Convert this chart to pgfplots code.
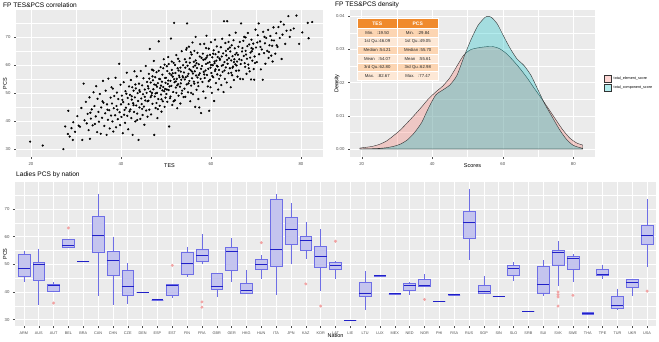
\documentclass[border=0pt]{standalone}
\usepackage{fontspec}
\setmainfont{Liberation Sans}
\usepackage{pgfplots}
\pgfplotsset{compat=1.18}
\usepgfplotslibrary{statistics}

\definecolor{panelbg}{HTML}{EBEBEB}
\definecolor{tickgray}{HTML}{4D4D4D}
\definecolor{tesfill}{HTML}{F8766D}
\definecolor{pcsfill}{HTML}{00BFC4}
\definecolor{hdr}{HTML}{F08A2C}
\definecolor{rowA}{HTML}{FCD5B2}
\definecolor{rowB}{HTML}{FDE8D6}
\definecolor{boxfill}{HTML}{C4C4EE}
\definecolor{boxline}{HTML}{6E6EE6}
\definecolor{medline}{HTML}{2020C8}
\definecolor{outl}{HTML}{F2A3A3}

\pgfplotsset{
 gg/.style={
  scale only axis,
  anchor=south west,
  axis background/.style={fill=panelbg},
  axis line style={draw=none},
  tick pos=left,
  tick align=outside,
  major tick length=2pt,
  minor tick length=0pt,
  tick style={tickgray, line width=0.4pt},
  grid=both,
  major grid style={white, line width=0.55pt},
  minor grid style={white, line width=0.25pt},
  tick label style={font=\fontsize{4.3}{5}\selectfont, text=tickgray},
  label style={font=\fontsize{5.5}{6}\selectfont},
  /pgf/number format/assume math mode=true,
 },
 bp/.style={
  boxplot/draw direction=y,
  boxplot/box extend=0.8,
  boxplot/whisker extend=0,
  draw=boxline, fill=boxfill, line width=0.55pt,
  boxplot/every median/.style={draw=medline, line width=1pt},
 },
}
\newcommand{\bx}[6]{\addplot[bp, boxplot prepared={draw position=#1, lower whisker=#2, lower quartile=#3, median=#4, upper quartile=#5, upper whisker=#6}] coordinates {};}

\begin{document}
\begin{tikzpicture}[x=1pt,y=1pt]
\useasboundingbox (0,0) rectangle (659,341);

% ---------------- scatter ----------------
\begin{axis}[gg, at={(16pt,184pt)}, width=307pt, height=147pt,
  xmin=16.67, xmax=84.9, ymin=27.1, ymax=79.6,
  xtick={20,40,60,80}, minor xtick={30,50,70},
  ytick={30,40,50,60,70}, minor ytick={35,45,55,65,75},
  xlabel={TES}, ylabel={PCS},
  xlabel style={at={(axis description cs:0.5,-0.061)}, anchor=center},
  ylabel style={at={(axis description cs:-0.036,0.5)}, anchor=center}]
\addplot[only marks, mark=*, mark size=0.9pt, black] coordinates {
(19.8,32.6)(22.6,31.2)(27.2,29.9)
(27.6,38.0)(28.2,35.3)(28.3,43.6)(28.6,34.4)(29.0,37.4)(29.3,33.2)(29.4,39.5)(29.8,36.1)
(30.3,41.7)(30.6,38.3)(30.9,37.9)(31.2,44.6)(31.4,33.2)(31.7,53.3)(31.9,40.2)(32.2,46.8)(32.4,39.1)(32.6,42.5)(32.8,36.7)(33.0,48.4)(33.1,33.6)(33.3,40.8)(33.5,44.1)(33.7,38.4)(33.9,50.2)(33.2,42.9)
(34.1,45.3)(34.2,38.9)(34.4,41.6)(34.5,52.4)(34.7,36.0)(34.8,47.9)(35.0,43.2)(35.1,39.7)(35.3,49.6)(35.5,35.4)(35.6,44.8)(35.8,41.1)(36.0,54.3)(36.1,46.5)(36.3,38.2)(36.5,42.7)(36.6,50.8)(36.8,35.0)(36.9,45.9)(37.1,40.4)(37.2,55.1)(37.4,43.8)(37.5,37.3)(37.7,48.3)(37.8,41.9)(37.9,52.0)(35.9,47.0)(37.0,44.0)
(38.0,46.2)(38.1,39.8)(38.2,51.5)(38.3,36.2)(38.4,44.5)(38.5,48.9)(38.7,42.0)(38.8,55.4)(38.9,37.7)(39.0,45.3)(39.1,50.1)(39.3,40.6)(39.4,47.8)(39.6,60.4)(39.7,43.1)(39.8,38.5)(39.9,52.9)(40.0,45.9)(40.1,41.4)(40.2,49.0)(40.4,35.6)(40.5,46.7)(40.6,53.8)(40.8,43.9)(40.9,39.3)(41.0,50.6)(41.1,44.7)(41.3,57.2)(41.4,41.8)(41.5,48.2)(41.6,37.0)(41.7,46.0)(41.8,52.3)(41.9,43.4)(40.3,47.5)(39.2,44.0)(40.7,42.2)(41.2,49.7)
(42.0,49.3)(42.1,44.1)(42.2,54.6)(42.3,41.0)(42.4,47.6)(42.5,52.0)(42.6,35.0)(42.7,46.3)(42.8,50.8)(42.9,43.2)(43.0,57.7)(43.1,48.4)(43.2,39.8)(43.3,51.6)(43.4,45.5)(43.5,55.9)(43.6,42.6)(43.7,49.9)(43.8,47.1)(43.9,33.2)(44.0,53.3)(44.1,44.8)(44.2,50.4)(44.3,40.7)(44.4,57.8)(44.5,48.0)(44.6,46.0)(44.7,52.7)(44.8,42.1)(44.9,49.5)(45.0,55.2)(45.1,45.1)(45.2,38.6)(45.3,51.2)(45.4,47.3)(45.5,59.6)(45.6,43.7)(45.7,50.0)(45.8,53.9)(45.9,41.5)(42.4,48.8)(43.2,53.0)(44.1,51.0)(44.7,44.3)(45.3,48.6)(45.9,47.0)(42.8,45.6)(43.6,40.3)
(46.0,52.4)(46.1,47.2)(46.2,56.8)(46.3,44.0)(46.4,65.7)(46.5,50.5)(46.6,53.7)(46.7,42.3)(46.8,49.1)(46.9,58.3)(47.0,46.1)(47.1,54.5)(47.2,51.3)(47.3,61.4)(47.4,35.0)(47.5,48.7)(47.6,55.6)(47.7,44.6)(47.8,52.8)(47.9,57.4)(48.0,50.0)(48.1,41.0)(48.2,53.5)(48.3,47.8)(48.4,68.4)(48.5,55.0)(48.6,45.4)(48.7,51.7)(48.8,59.2)(48.9,49.4)(49.0,43.3)(49.1,54.0)(49.2,56.5)(49.3,47.0)(49.4,52.1)(49.5,62.0)(49.6,50.6)(49.7,45.0)(49.8,55.3)(49.9,48.3)(46.3,55.1)(46.9,50.0)(47.4,53.0)(47.9,46.4)(48.4,57.9)(48.9,52.6)(49.4,58.8)(49.9,53.6)(46.6,48.5)(47.2,58.0)(47.7,49.8)(48.2,44.2)(48.7,54.9)(49.2,50.9)(49.7,60.1)(46.1,51.6)(47.0,55.9)(48.0,52.2)(49.0,47.7)(49.8,51.4)
(50.0,55.4)(50.1,49.6)(50.2,59.5)(50.3,46.8)(50.4,53.2)(50.5,62.8)(50.6,51.0)(50.7,38.0)(50.8,56.9)(50.9,48.1)(51.0,54.3)(51.1,69.4)(51.2,52.5)(51.3,58.2)(51.4,45.7)(51.5,55.8)(51.6,50.3)(51.7,60.7)(51.8,75.0)(51.9,53.8)(52.0,47.4)(52.1,57.1)(52.2,51.9)(52.3,63.5)(52.4,55.0)(52.5,44.5)(52.6,58.8)(52.7,53.1)(52.8,49.0)(52.9,56.2)(53.0,61.3)(53.1,52.2)(53.2,46.2)(53.3,57.6)(53.4,54.7)(53.5,64.9)(53.6,50.8)(53.7,56.0)(53.8,59.9)(53.9,48.5)(50.3,57.8)(50.8,52.3)(51.3,61.2)(51.8,54.9)(52.3,50.0)(52.8,58.0)(53.3,53.4)(53.8,55.5)(50.5,54.4)(51.0,48.7)(51.5,57.0)(52.0,60.0)(52.5,52.7)(53.0,55.6)(53.5,49.8)(50.2,51.2)(51.2,56.4)(52.2,54.1)(53.2,59.0)(50.6,60.3)(51.7,47.0)(52.7,62.2)
(54.0,57.3)(54.1,51.5)(54.2,62.0)(54.3,48.6)(54.4,55.6)(54.5,65.4)(54.6,53.0)(54.7,74.8)(54.8,59.7)(54.9,50.2)(55.0,56.8)(55.1,66.5)(55.2,54.3)(55.3,60.8)(55.4,47.0)(55.5,58.1)(55.6,52.6)(55.7,63.7)(55.8,55.2)(55.9,68.0)(56.0,49.5)(56.1,59.3)(56.2,54.0)(56.3,65.0)(56.4,57.7)(56.5,45.0)(56.6,61.6)(56.7,56.2)(56.8,51.1)(56.9,58.9)(57.0,64.3)(57.1,53.7)(57.2,47.8)(57.3,60.2)(57.4,44.8)(57.5,57.0)(57.6,67.4)(57.7,55.0)(57.8,42.8)(57.9,62.5)(54.3,59.0)(54.8,56.0)(55.3,62.4)(55.8,57.6)(56.3,53.3)(56.8,60.6)(57.3,56.4)(57.8,58.6)(54.5,61.0)(55.0,53.4)(55.5,64.5)(56.0,56.9)(56.5,59.8)(57.0,55.5)(57.5,63.0)(54.2,54.8)(55.2,58.5)(56.2,61.1)(57.2,52.4)(54.6,66.0)(55.6,50.0)(56.6,70.0)
(58.0,59.6)(58.1,53.9)(58.2,64.0)(58.3,50.5)(58.4,57.5)(58.5,67.5)(58.6,55.3)(58.7,62.0)(58.8,48.2)(58.9,60.3)(59.0,70.4)(59.1,56.4)(59.2,63.3)(59.3,52.3)(59.4,58.6)(59.5,65.8)(59.6,43.6)(59.7,61.0)(59.8,54.7)(59.9,59.0)(60.0,68.1)(60.1,57.1)(60.2,50.0)(60.3,62.7)(60.4,59.9)(60.5,55.6)(60.6,65.2)(60.7,47.1)(60.8,60.6)(60.9,57.8)(61.0,63.8)(61.1,53.5)(61.2,61.5)(61.3,66.6)(61.4,56.6)(61.5,59.4)(61.6,51.2)(61.7,64.6)(61.8,58.2)(61.9,62.3)(58.3,61.8)(58.8,58.0)(59.3,60.7)(59.8,63.6)(60.3,56.0)(60.8,61.2)(61.3,59.7)(61.8,55.0)(58.5,56.6)(59.0,62.6)(59.5,54.2)(60.0,60.0)(60.5,64.0)(61.0,58.4)(61.5,62.8)(58.9,66.0)(59.9,52.0)(60.9,69.0)
(62.0,61.8)(62.1,56.2)(62.2,66.3)(62.3,52.8)(62.4,59.7)(62.5,69.3)(62.6,57.5)(62.7,64.1)(62.8,50.3)(62.9,75.6)(63.0,61.0)(63.1,55.0)(63.2,67.8)(63.3,59.1)(63.4,63.4)(63.5,53.7)(63.6,75.6)(63.7,60.4)(63.8,65.7)(63.9,57.0)(64.0,62.4)(64.1,70.6)(64.2,58.8)(64.3,64.8)(64.4,52.0)(64.5,61.6)(64.6,67.0)(64.7,56.3)(64.8,63.1)(64.9,59.4)(65.0,68.8)(65.1,54.6)(65.2,62.0)(65.3,65.9)(65.4,60.2)(65.5,71.5)(65.6,57.9)(65.7,64.3)(65.8,61.2)(65.9,55.8)(62.4,63.0)(63.0,58.0)(63.6,61.8)(64.2,66.2)(64.8,59.0)(65.4,63.7)(62.7,60.0)(63.3,65.0)(63.9,68.2)(64.5,57.2)(65.1,61.0)(65.7,59.8)
(66.0,63.6)(66.2,58.0)(66.4,68.2)(66.5,55.0)(66.7,74.8)(66.8,61.7)(67.0,66.0)(67.1,54.9)(67.3,63.2)(67.4,70.0)(67.6,59.3)(67.7,65.0)(67.9,56.8)(68.0,62.2)(68.2,71.4)(68.3,60.1)(68.5,67.3)(68.6,57.7)(68.8,64.4)(68.9,54.8)(69.0,69.0)(69.2,61.5)(69.3,65.7)(69.5,58.5)(69.6,54.7)(69.7,63.0)(69.9,72.6)(66.3,62.0)(66.9,64.8)(67.5,60.6)(68.1,66.7)(68.7,62.6)(69.4,67.6)(66.6,60.3)(67.2,68.6)(67.8,63.7)(68.4,58.8)(69.1,64.9)(69.8,60.7)(66.1,66.5)(67.7,69.8)(69.0,66.0)
(70.0,66.2)(70.2,61.0)(70.4,70.6)(70.6,74.8)(70.7,63.8)(70.9,68.4)(71.1,58.4)(71.3,65.5)(71.5,54.7)(71.6,71.8)(71.8,64.2)(72.0,67.7)(72.1,60.4)(72.3,69.6)(72.5,65.0)(72.7,72.5)(72.8,62.5)(73.0,67.0)(73.2,70.3)(73.4,63.3)(73.5,68.8)(73.7,61.2)(73.9,73.4)(70.3,68.0)(71.0,66.4)(71.9,70.0)(72.9,64.6)(73.6,66.8)
(74.0,68.7)(74.3,64.0)(74.5,71.3)(74.8,66.4)(75.0,73.5)(75.3,69.6)(75.7,62.1)(75.9,70.8)(76.2,74.4)(76.5,67.5)(76.8,72.2)(77.2,77.4)(77.5,70.0)(77.7,72.4)(74.6,67.0)(75.5,75.4)
(78.4,73.0)(79.0,77.6)(79.6,67.5)(80.3,71.6)(81.5,75.0)(81.7,69.5)(82.5,75.3)
};
\end{axis}

% ---------------- density ----------------
\begin{axis}[gg, at={(350pt,184pt)}, width=245pt, height=147pt,
  xmin=16.68, xmax=86.15, ymin=-0.0024, ymax=0.0419,
  xtick={20,40,60,80}, minor xtick={30,50,70},
  ytick={0,0.01,0.02,0.03,0.04}, minor ytick={0.005,0.015,0.025,0.035},
  scaled y ticks=false,
  yticklabel style={/pgf/number format/.cd, fixed, fixed zerofill, precision=2},
  xlabel={Scores}, ylabel={Density},
  xlabel style={at={(axis description cs:0.5,-0.061)}, anchor=center},
  ylabel style={at={(axis description cs:-0.053,0.5)}, anchor=center},
  legend style={at={(axis description cs:1.025,0.5)}, anchor=west, draw=none, fill=none,
    font=\fontsize{3.7}{4.5}\selectfont, row sep=1pt},
  legend cell align=left,
  legend image code/.code={\draw[#1] (0pt,-3.5pt) rectangle (7pt,3.5pt);}]
\addplot[draw=black!80, line width=0.4pt, fill=tesfill, fill opacity=0.3, smooth, tension=0.4] coordinates {
(19.5,0.0003)(21,0.0005)(23,0.0008)(25,0.0014)(27,0.0024)(29,0.0040)(31,0.0058)(33,0.0080)(35,0.0103)(37,0.0127)(39,0.0152)(41,0.0172)(43,0.0190)(45,0.0215)(47,0.0250)(49,0.0284)(51,0.0300)(53,0.0305)(55,0.0308)(57,0.0309)(59,0.0303)(61,0.0288)(63,0.0266)(65,0.0241)(67,0.0213)(69,0.0182)(71,0.0152)(73,0.0121)(75,0.0089)(77,0.0058)(79,0.0033)(81,0.0018)(82.67,0.0012)
} \closedcycle;
\addlegendentry{total\_element\_score}
\addplot[draw=black!80, line width=0.4pt, fill=pcsfill, fill opacity=0.3, smooth, tension=0.4] coordinates {
(19.5,0.0000)(23,0.0001)(25,0.0002)(27,0.0004)(29,0.0008)(31,0.0015)(33,0.0028)(35,0.0050)(37,0.0080)(39,0.0125)(41,0.0163)(43,0.0178)(45,0.0193)(47,0.0222)(49,0.0278)(51,0.0330)(53,0.0373)(55,0.0397)(56,0.0400)(57,0.0395)(58.5,0.0376)(60,0.0345)(62,0.0305)(64,0.0272)(66,0.0252)(68,0.0222)(70,0.0178)(72,0.0134)(74,0.0097)(76,0.0060)(78,0.0030)(80,0.0011)(82.67,0.0002)
} \closedcycle;
\addlegendentry{total\_component\_score}
\end{axis}

% ---------------- boxplot ----------------
\begin{axis}[gg, at={(15pt,15pt)}, width=641pt, height=144pt,
  xmin=-0.6, xmax=42.6, ymin=27.7, ymax=79.7,
  xtick={0,...,42},
  xticklabels={ARM,AUS,AUT,BEL,BRA,CAN,CHN,CZE,DEN,ESP,EST,FIN,FRA,GBR,GER,HKG,HUN,ITA,JPN,KAZ,KOR,LAT,LIE,LTU,LUX,MEX,NED,NOR,PHI,RSA,RUS,SGP,SIN,SLO,SRB,SUI,SVK,SWE,THA,TPE,TUR,UKR,USA},
  xticklabel style={font=\fontsize{3.8}{4.5}\selectfont},
  ytick={30,40,50,60,70}, minor ytick={35,45,55,65,75},
  xlabel={Nation}, ylabel={PCS},
  xlabel style={at={(axis description cs:0.5,-0.069)}, anchor=center},
  ylabel style={at={(axis description cs:-0.0156,0.5)}, anchor=center}]
\bx{0}{43.6}{45.8}{48.4}{53.5}{54.7}
\bx{1}{35.2}{44.3}{49.9}{50.8}{55.6}
\bx{2}{40.0}{40.2}{42.4}{42.6}{43.6}
\bx{3}{56.0}{56.2}{56.6}{59.0}{59.0}
\bx{4}{50.9}{50.9}{50.9}{50.9}{50.9}
\bx{5}{38.5}{54.4}{60.3}{67.3}{75.5}
\bx{6}{35.4}{46.0}{51.3}{54.8}{59.8}
\bx{7}{35.8}{38.7}{42.0}{47.8}{50.5}
\bx{8}{39.9}{39.9}{39.9}{39.9}{39.9}
\bx{9}{37.1}{37.1}{37.1}{37.1}{37.1}
\bx{10}{37.7}{38.7}{42.4}{42.9}{42.9}
\bx{11}{45.3}{46.4}{50.1}{54.4}{56.4}
\bx{12}{50.2}{50.9}{53.2}{55.4}{61.0}
\bx{13}{38.1}{40.8}{41.8}{46.7}{47.0}
\bx{14}{43.5}{47.8}{54.5}{56.1}{59.6}
\bx{15}{39.3}{39.5}{40.7}{43.2}{48.1}
\bx{16}{44.8}{48.3}{49.9}{51.9}{53.2}
\bx{17}{39.0}{49.1}{55.3}{73.3}{75.5}
\bx{18}{50.1}{57.1}{62.6}{67.1}{72.2}
\bx{19}{52.0}{54.9}{58.5}{60.1}{65.3}
\bx{20}{40.2}{48.9}{52.9}{56.6}{62.6}
\bx{21}{44.6}{48.1}{49.6}{50.6}{51.2}
\bx{22}{29.8}{29.8}{29.8}{29.8}{29.8}
\bx{23}{33.5}{38.4}{39.6}{43.4}{47.6}
\bx{24}{45.8}{45.8}{45.8}{45.8}{45.8}
\bx{25}{39.3}{39.3}{39.3}{39.3}{39.3}
\bx{26}{39.0}{40.5}{42.3}{43.0}{43.5}
\bx{27}{41.9}{41.9}{42.2}{44.7}{46.4}
\bx{28}{36.7}{36.7}{36.7}{36.7}{36.7}
\bx{29}{38.9}{38.9}{38.9}{38.9}{38.9}
\bx{30}{51.5}{59.2}{65.0}{69.0}{77.3}
\bx{31}{39.5}{39.5}{40.3}{42.4}{45.6}
\bx{32}{38.4}{38.4}{38.4}{38.4}{38.4}
\bx{33}{43.8}{45.9}{48.3}{49.7}{50.8}
\bx{34}{33.1}{33.1}{33.1}{33.1}{33.1}
\bx{35}{38.4}{39.6}{42.8}{49.1}{51.4}
\bx{36}{42.0}{49.5}{54.1}{55.2}{58.4}
\bx{37}{43.6}{48.1}{51.9}{52.9}{53.7}
\bx{38}{31.8}{31.8}{32.2}{32.6}{32.6}
\bx{39}{44.8}{46.0}{46.4}{48.2}{49.9}
\bx{40}{33.4}{34.2}{35.2}{38.3}{41.2}
\bx{41}{38.5}{41.7}{43.5}{44.6}{44.8}
\bx{42}{49.1}{57.2}{60.4}{64.2}{73.4}
% outliers
\addplot[only marks, color=outl, mark=*, mark size=1.3pt, mark options={solid, draw=outl, fill=outl}] coordinates {(2,36.0)(3,63.1)(10,49.6)(12,36.4)(12,34.5)(16,57.8)(19,42.9)(20,34.9)(21,58.3)(27,37.3)(36,40.0)(36,39.0)(36,38.2)(36,34.9)(37,38.8)(42,40.3)};
\end{axis}

% ---------------- titles ----------------
\node[anchor=west, font=\fontsize{6.6}{7}\selectfont, inner sep=0pt] at (3,336) {FP TES\&PCS correlation};
\node[anchor=west, font=\fontsize{6.6}{7}\selectfont, inner sep=0pt] at (335,336) {FP TES\&PCS density};
\node[anchor=west, font=\fontsize{6.6}{7}\selectfont, inner sep=0pt] at (16,166) {Ladies PCS by nation};

% ---------------- summary table ----------------
\begin{scope}[every node/.style={font=\fontsize{4.3}{5}\selectfont, inner sep=0pt, text=black!85}]
\fill[hdr, draw=white, line width=0.4pt] (357,312.5) rectangle (397.5,322.5);
\fill[hdr, draw=white, line width=0.4pt] (397.5,312.5) rectangle (438,322.5);
\node[text=white, font=\fontsize{5}{6}\selectfont\bfseries] at (377.25,317.5) {TES};
\node[text=white, font=\fontsize{5}{6}\selectfont\bfseries] at (417.75,317.5) {PCS};
\foreach \i/\c/\a/\b in {0/rowA/{Min.\ \ \ :19.50}/{Min.\ \ \ :29.84},
                         1/rowB/{1st Qu.:46.09}/{1st Qu.:49.05},
                         2/rowA/{Median :54.21}/{Median :55.70},
                         3/rowB/{Mean\ \ \ :54.07}/{Mean\ \ \ :55.61},
                         4/rowA/{3rd Qu.:62.80}/{3rd Qu.:62.98},
                         5/rowB/{Max.\ \ \ :82.67}/{Max.\ \ \ :77.47}} {
  \pgfmathsetmacro{\yt}{312.5-8.6*\i}
  \pgfmathsetmacro{\yb}{\yt-8.6}
  \pgfmathsetmacro{\ym}{\yt-4.3}
  \fill[\c, draw=white, line width=0.4pt] (357,\yb) rectangle (397.5,\yt);
  \fill[\c, draw=white, line width=0.4pt] (397.5,\yb) rectangle (438,\yt);
  \node at (377.25,\ym) {\a};
  \node at (417.75,\ym) {\b};
}
\end{scope}
\end{tikzpicture}
\end{document}
